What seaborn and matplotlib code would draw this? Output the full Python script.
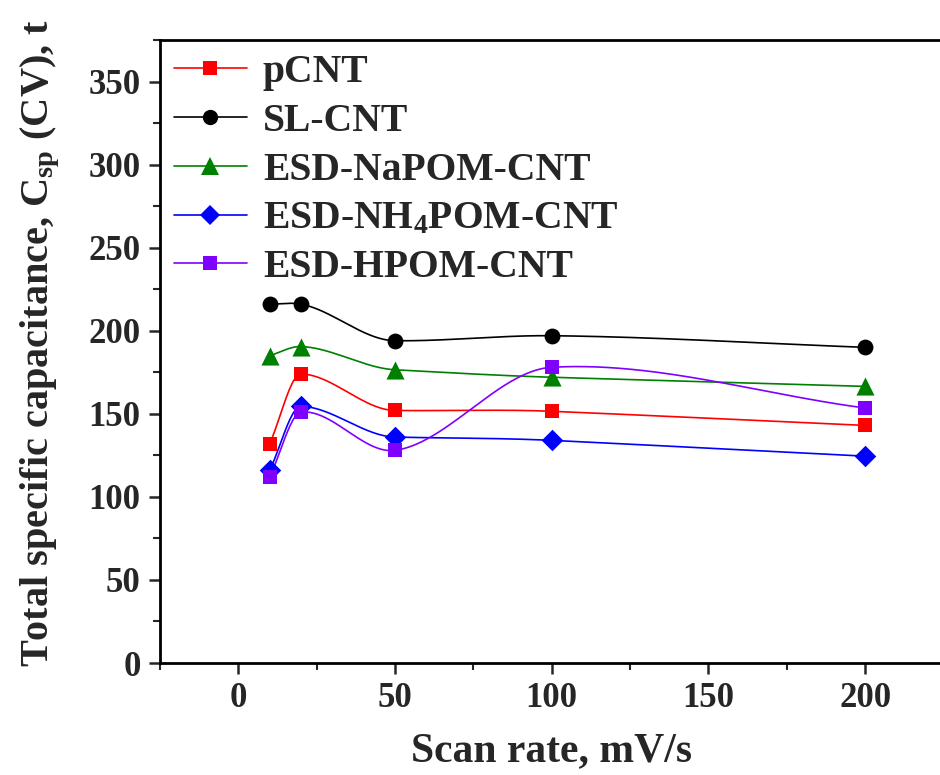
import numpy as np
import pandas as pd
import matplotlib
matplotlib.use("Agg")
import matplotlib.pyplot as plt
from matplotlib.lines import Line2D
import seaborn as sns

# ---- data ----
scan_rate = [10, 20, 50, 100, 200]
series_names = ["pCNT", "SL-CNT", "ESD-NaPOM-CNT", "ESD-NH$_4$POM-CNT", "ESD-HPOM-CNT"]
pcnt = [132, 174, 152, 151.5, 143]
sl_cnt = [216, 216, 194, 197, 190]
napom = [185, 190.5, 176.5, 172, 166.5]
nh4pom = [116, 154.5, 136, 134, 124.5]
hpom = [112, 151, 128, 178, 153.5]
x_ticks = [0, 50, 100, 150, 200]
y_ticks = [0, 50, 100, 150, 200, 250, 300, 350]

values = [pcnt, sl_cnt, napom, nh4pom, hpom]
colors = ["#FF0000", "#000000", "#008000", "#0000FF", "#8000FF"]
markers = ["s", "o", "^", "D", "s"]
scatter_sizes = [110, 130, 170, 120, 110]
legend_ms = [10.5, 11, 13, 10, 10.5]

sns.set_theme(style="ticks")
plt.rcParams["font.family"] = ["Liberation Serif", "DejaVu Serif"]
plt.rcParams["font.weight"] = "bold"
plt.rcParams["mathtext.fontset"] = "custom"
plt.rcParams["mathtext.rm"] = "Liberation Serif:bold"
plt.rcParams["mathtext.bf"] = "Liberation Serif:bold"
plt.rcParams["mathtext.it"] = "Liberation Serif:bold:italic"
plt.rcParams["mathtext.default"] = "bf"


def smooth_curve(x, y, xs, damp=0.4):
    """Akima-type Hermite spline, tangents damped at local extrema."""
    x = np.asarray(x, float)
    y = np.asarray(y, float)
    n = len(x)
    m = np.diff(y) / np.diff(x)
    mm = np.empty(n + 3)
    mm[2:n + 1] = m
    mm[1] = 2 * mm[2] - mm[3]
    mm[0] = 2 * mm[1] - mm[2]
    mm[n + 1] = 2 * mm[n] - mm[n - 1]
    mm[n + 2] = 2 * mm[n + 1] - mm[n]
    t = np.empty(n)
    for i in range(n):
        w1 = abs(mm[i + 3] - mm[i + 2])
        w2 = abs(mm[i + 1] - mm[i])
        if w1 + w2 < 1e-12:
            t[i] = 0.5 * (mm[i + 1] + mm[i + 2])
        else:
            t[i] = (w1 * mm[i + 1] + w2 * mm[i + 2]) / (w1 + w2)
        if 0 < i < n - 1 and m[i - 1] * m[i] < 0:
            t[i] *= damp
    t[0] = m[0]
    t[-1] = m[-1]
    out = np.empty_like(xs)
    for k, xv in enumerate(xs):
        i = int(np.clip(np.searchsorted(x, xv, side="right") - 1, 0, n - 2))
        h = x[i + 1] - x[i]
        s = (xv - x[i]) / h
        h00 = 2 * s ** 3 - 3 * s ** 2 + 1
        h10 = s ** 3 - 2 * s ** 2 + s
        h01 = -2 * s ** 3 + 3 * s ** 2
        h11 = s ** 3 - s ** 2
        out[k] = h00 * y[i] + h10 * h * t[i] + h01 * y[i + 1] + h11 * h * t[i + 1]
    return out


fig = plt.figure(figsize=(9.4, 7.75), dpi=100)
ax = fig.add_axes([160 / 940, (775 - 663) / 775, (943.5 - 160) / 940, (663 - 40) / 775])

xs = np.linspace(scan_rate[0], scan_rate[-1], 500)
for name, vals, c, m, s in zip(series_names, values, colors, markers, scatter_sizes):
    ys = smooth_curve(scan_rate, vals, xs)
    curve = pd.DataFrame({"x": xs, "y": ys})
    sns.lineplot(data=curve, x="x", y="y", color=c, linewidth=1.2, ax=ax, zorder=2)
    pts = pd.DataFrame({"x": scan_rate, "y": vals})
    sns.scatterplot(data=pts, x="x", y="y", color=c, marker=m, s=s, linewidth=0,
                    ax=ax, zorder=3)

ax.set_xlim(-25, 225)
ax.set_ylim(0, 375)
ax.set_xticks(x_ticks)
ax.set_yticks(y_ticks)
ax.set_xticks(np.arange(-25, 226, 50), minor=True)
ax.set_yticks(np.arange(25, 376, 50), minor=True)
ax.tick_params(axis="both", which="major", direction="out", length=8, width=1.8,
               labelsize=25, pad=6)
ax.tick_params(axis="both", which="minor", direction="out", length=5, width=1.5)
for lab in ax.get_xticklabels() + ax.get_yticklabels():
    lab.set_fontweight("bold")
for sp in ax.spines.values():
    sp.set_linewidth(2)
    sp.set_color("black")

ax.set_xlabel("Scan rate, mV/s", fontsize=30, fontweight="bold", labelpad=12)
ax.set_ylabel("")
fig.text(40 / 940, (775 - 667) / 775, "Total specific capacitance, C$_{sp}$ (CV), t",
         rotation=90, ha="center", va="bottom", fontsize=29, fontweight="bold")

handles = [Line2D([0], [0], color=c, marker=m, markersize=ms, linewidth=1.2,
                  markeredgewidth=0) for c, m, ms in zip(colors, markers, legend_ms)]
leg = ax.legend(handles, series_names, loc="upper left", bbox_to_anchor=(0.0, 1.0),
                frameon=False, prop={"family": "Liberation Serif", "weight": "bold", "size": 28.5},
                handlelength=1.85, handletextpad=0.4, labelspacing=0.3,
                borderaxespad=0.2, borderpad=0.15)

fig.savefig("out.png", dpi=100)
